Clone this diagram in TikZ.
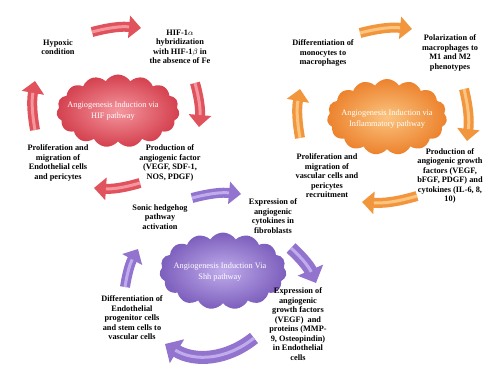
\documentclass[tikz,border=0pt]{standalone}
\usepackage{fontspec}
\setmainfont{Liberation Serif}
\usetikzlibrary{shapes.symbols, arrows.meta}

\definecolor{hifred}{RGB}{224,82,92}
\definecolor{hiflight}{RGB}{244,150,158}
\definecolor{hifdark}{RGB}{212,64,78}
\definecolor{inforange}{RGB}{242,150,62}
\definecolor{inflight}{RGB}{251,196,128}
\definecolor{infdark}{RGB}{236,130,45}
\definecolor{shhpurple}{RGB}{146,116,206}
\definecolor{shhlight}{RGB}{192,172,236}
\definecolor{shhdark}{RGB}{124,94,188}

\tikzset{
  txt/.style={align=center, inner sep=0pt, font=\fontsize{8.3}{9.5}\selectfont\bfseries},
  cloudtxt/.style={align=center, inner sep=0pt, text=white, font=\fontsize{8.3}{11}\selectfont},
  puff/.style={cloud, cloud puffs=15, cloud puff arc=115, cloud ignores aspect, inner sep=0pt},
  blk/.style={line width=10pt, -{Triangle[width=22pt,length=12pt]}},
  blkwide/.style={line width=13pt, -{Triangle[width=27pt,length=14pt]}},
  hl/.style={postaction={draw=#1, -, line width=3pt, shorten >=12pt}},
}

\begin{document}
\begin{tikzpicture}[x=1pt, y=1pt]

\useasboundingbox (0,0) rectangle (487,364);

%Clouds
\node[puff, minimum width=123pt, minimum height=73pt, inner color=hiflight, outer color=hifdark] (hifcloud) at (118,253) {};
\node[puff, minimum width=120pt, minimum height=76pt, inner color=inflight, outer color=infdark] (infcloud) at (387,247) {};
\node[puff, minimum width=127pt, minimum height=77pt, inner color=shhlight, outer color=shhdark] (shhcloud) at (223,93) {};

\node[cloudtxt] (hifname) at (113,253) {Angiogenesis Induction via\\HIF pathway};
\node[cloudtxt] (infname) at (387,245) {Angiogenesis Induction via\\Inflammatory pathway};
\node[cloudtxt] (shhname) at (220,92) {Angiogenesis Induction Via\\Shh pathway};

%HIF cycle
\node[txt] (hypoxic) at (58,317) {Hypoxic\\condition};
\node[txt] (hif) at (180,317) {HIF-1$\alpha$\\hybridization\\with HIF-1$\beta$ in\\the absence of Fe};
\node[txt] (prodhif) at (170,201) {Production of\\angiogenic factor\\(VEGF, SDF-1,\\NOS, PDGF)};
\node[txt] (prolhif) at (58,201) {Proliferation and\\migration of\\Endothelial cells\\and pericytes};

%Inflammatory cycle
\node[txt] (diffmono) at (323,311) {Differentiation of\\monocytes to\\macrophages};
\node[txt] (polar) at (450,311) {Polarization of\\macrophages to\\M1 and M2\\phenotypes};
\node[txt] (prodinf) at (450,188) {Production of\\angiogenic growth\\factors (VEGF,\\bFGF, PDGF) and\\cytokines (IL-6, 8,\\10)};
\node[txt] (prolinf) at (327,188) {Proliferation and\\migration of\\vascular cells and\\pericytes\\recruitment};

%Shh cycle
\node[txt] (sonic) at (160,147) {Sonic hedgehog\\pathway\\activation};
\node[txt] (exprfib) at (273,148) {Expression of\\angiogenic\\cytokines in\\fibroblasts};
\node[txt] (exprendo) at (298,40) {Expression of\\angiogenic\\growth factors\\(VEGF)\ \ and\\proteins (MMP-\\9, Osteopindin)\\in Endothelial\\cells};
\node[txt] (diffendo) at (132,46) {Differentiation of\\Endothelial\\progenitor cells\\and stem cells to\\vascular cells};

%Arrow ends
\coordinate (h1s) at (92,332);  \coordinate (h1e) at (141,336);
\coordinate (h2s) at (195,281); \coordinate (h2e) at (199,237);
\coordinate (h3s) at (140,181); \coordinate (h3e) at (94,176);
\coordinate (h4s) at (35,234);  \coordinate (h4e) at (35,283);

\coordinate (i1s) at (360,331); \coordinate (i1e) at (412,335);
\coordinate (i2s) at (464,275); \coordinate (i2e) at (467,223);
\coordinate (i3s) at (417,168); \coordinate (i3e) at (362,162);
\coordinate (i4s) at (300,226); \coordinate (i4e) at (300,275);

\coordinate (s1s) at (192,166); \coordinate (s1e) at (241,170);
\coordinate (s2s) at (291,116); \coordinate (s2e) at (316,81);
\coordinate (s3s) at (254,26);  \coordinate (s3e) at (165,20);
\coordinate (s4s) at (125,77);  \coordinate (s4e) at (138,115);

%Arrows
\foreach \a/\b/\c/\l in {h1s/h1e/hifred/hiflight, h2s/h2e/hifred/hiflight, h3s/h3e/hifred/hiflight, h4s/h4e/hifred/hiflight,
  i1s/i1e/inforange/inflight, i2s/i2e/inforange/inflight, i3s/i3e/inforange/inflight, i4s/i4e/inforange/inflight,
  s1s/s1e/shhpurple/shhlight, s4s/s4e/shhpurple/shhlight}
{
	\draw[blk, draw=\c, hl=\l] (\a) to[bend left=10] (\b);
}
\draw[blkwide, draw=shhpurple, hl=shhlight] (s2s) to[bend left=12] (s2e);
\draw[blkwide, draw=shhpurple, hl=shhlight] (s3s) to[bend left=35] (s3e);

\end{tikzpicture}
\end{document}
